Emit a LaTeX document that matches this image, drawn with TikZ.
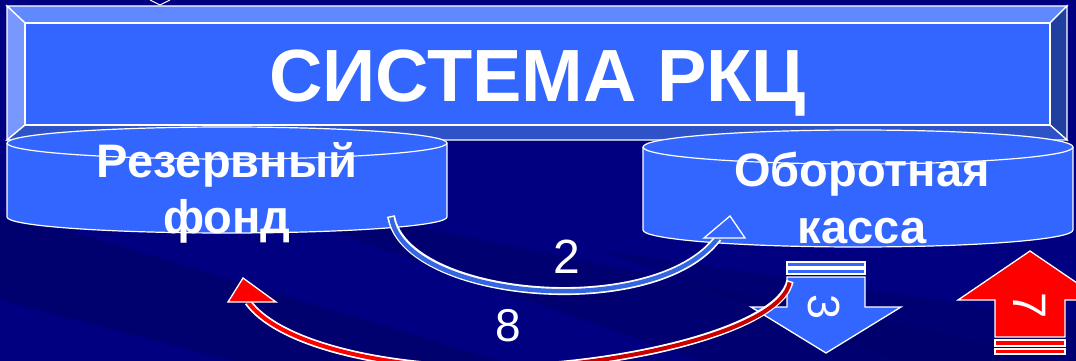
\documentclass[tikz,border=0pt]{standalone}
\usepackage{fontspec}
\setmainfont{Liberation Sans}
\definecolor{navy}{HTML}{000080}
\definecolor{navyd}{HTML}{000068}
\definecolor{face}{HTML}{3366FF}
\definecolor{shaft}{HTML}{3366E0}
\definecolor{bevtop}{HTML}{6088FF}
\definecolor{bevleft}{HTML}{7898FF}
\definecolor{bevright}{HTML}{203F9F}
\definecolor{bevbot}{HTML}{2E52C8}
\definecolor{redA}{HTML}{FF0000}
\definecolor{redB}{HTML}{C80000}
\tikzset{
  edge/.style={draw=white, line width=1.3pt, line join=miter},
  bev/.style={edge},
  cyltext/.style={text=white, font=\bfseries\fontsize{47}{47}\selectfont, anchor=base, inner sep=0pt},
  numtext/.style={text=white, inner sep=0pt},
}
\begin{document}
\begin{tikzpicture}[x=1pt,y=-1pt]
\path[use as bounding box] (0,0) rectangle (1076,361);
\begin{scope}
\clip (0,0) rectangle (1076,361);
% background
\fill[navy] (0,0) rectangle (1076,361);
\fill[navyd, opacity=0.7] (0,210) -- (500,361) -- (233,361) -- (0,300) -- cycle;
\fill[navyd, opacity=0.6] (383,220) -- (1076,361) -- (700,361) -- (330,230) -- cycle;
\fill[navyd, opacity=0.5] (600,250) -- (1076,320) -- (1076,361) -- (900,361) -- cycle;
% small chevron at top
\draw[white, line width=1pt] (150,0) -- (160,5) -- (170,0);
% title box with bevels
\path[bev, fill=bevtop] (7,6) -- (1067,6) -- (1050,23) -- (25,23) -- cycle;
\path[bev, fill=bevleft] (7,6) -- (25,23) -- (25,125) -- (7,140) -- cycle;
\path[bev, fill=bevright] (1067,6) -- (1067,140) -- (1050,125) -- (1050,23) -- cycle;
\path[bev, fill=bevbot] (7,140) -- (25,125) -- (1050,125) -- (1067,140) -- cycle;
\path[bev, fill=face] (25,23) rectangle (1050,125);
\node[text=white, font=\bfseries\fontsize{74}{74}\selectfont, anchor=base, inner sep=0pt] (title) at (537.5,101) {СИСТЕМА РКЦ};
% left cylinder
\fill[face] (7,143) rectangle (447,217);
\fill[face] (227,217) ellipse[x radius=220, y radius=16];
\draw[white, line width=1.2pt] (7,143) -- (7,217) arc[start angle=180, end angle=0, x radius=220, y radius=16] -- (447,143);
\filldraw[fill=face, draw=white, line width=1.2pt] (227,143) ellipse[x radius=220, y radius=16];
\node[cyltext] (rf1) at (227,177) {Резервный};
\node[cyltext] (rf2) at (227,233) {фонд};
% right cylinder
\fill[face] (643,147) rectangle (1073,230);
\fill[face] (858,230) ellipse[x radius=215, y radius=17];
\draw[white, line width=1.2pt] (643,147) -- (643,230) arc[start angle=180, end angle=0, x radius=215, y radius=17] -- (1073,147);
\filldraw[fill=face, draw=white, line width=1.2pt] (858,147) ellipse[x radius=215, y radius=17];
\node[cyltext] (ok1) at (862,186) {Оборотная};
\node[cyltext] (ok2) at (862,243) {касса};
% arrow 2 (blue, from reserve fund to cash desk)
\coordinate (a2s) at (391,216);
\coordinate (a2e) at (718,238);
\draw[white, line width=8pt] (a2s) .. controls (405,300) and (655,322) .. (a2e);
\draw[shaft, line width=4.5pt, shorten <=1.5pt] (a2s) .. controls (405,300) and (655,322) .. (a2e);
\path[edge, fill=face] (704,238) -- (730,216) -- (745,238) -- cycle;
\node[numtext, font=\fontsize{48}{48}\selectfont, anchor=base] (n2) at (567,273) {2};
% down arrow 3
\path[edge, fill=face] (787,262) rectangle (865,267);
\path[edge, fill=face] (787,269) rectangle (865,274);
\path[edge, fill=face] (787,277) -- (865,277) -- (865,307) -- (901,307) -- (826,353) -- (751,307) -- (787,307) -- cycle;
\node[numtext, font=\fontsize{45}{45}\selectfont, rotate=-90] (n3) at (824,307) {3};
% up arrow 7
\path[edge, fill=redA] (1030,251) -- (1102,300) -- (1065,300) -- (1065,337) -- (995,337) -- (995,300) -- (958,300) -- cycle;
\path[edge, fill=redA] (995,340) rectangle (1065,346);
\path[edge, fill=redA] (995,349) rectangle (1065,354);
\node[numtext, font=\fontsize{47}{47}\selectfont, rotate=-90] (n7) at (1030,306) {7};
% arrow 8 (red, from cash desk back to reserve fund)
\coordinate (a8s) at (790,281);
\coordinate (a8m) at (490,368);
\coordinate (a8e) at (248,302);
\draw[white, line width=7.5pt] (a8s) .. controls (780,330) and (620,368) .. (a8m) .. controls (370,368) and (275,340) .. (a8e);
\draw[redB, line width=4pt, shorten <=1.5pt] (a8s) .. controls (780,330) and (620,368) .. (a8m);
\draw[redA, line width=4pt] (a8m) .. controls (370,368) and (275,340) .. (a8e);
\path[edge, fill=redA] (228,302) -- (243,278) -- (276,302) -- cycle;
\node[numtext, font=\fontsize{46}{46}\selectfont, anchor=base] (n8) at (508,341) {8};
\end{scope}
\end{tikzpicture}
\end{document}
